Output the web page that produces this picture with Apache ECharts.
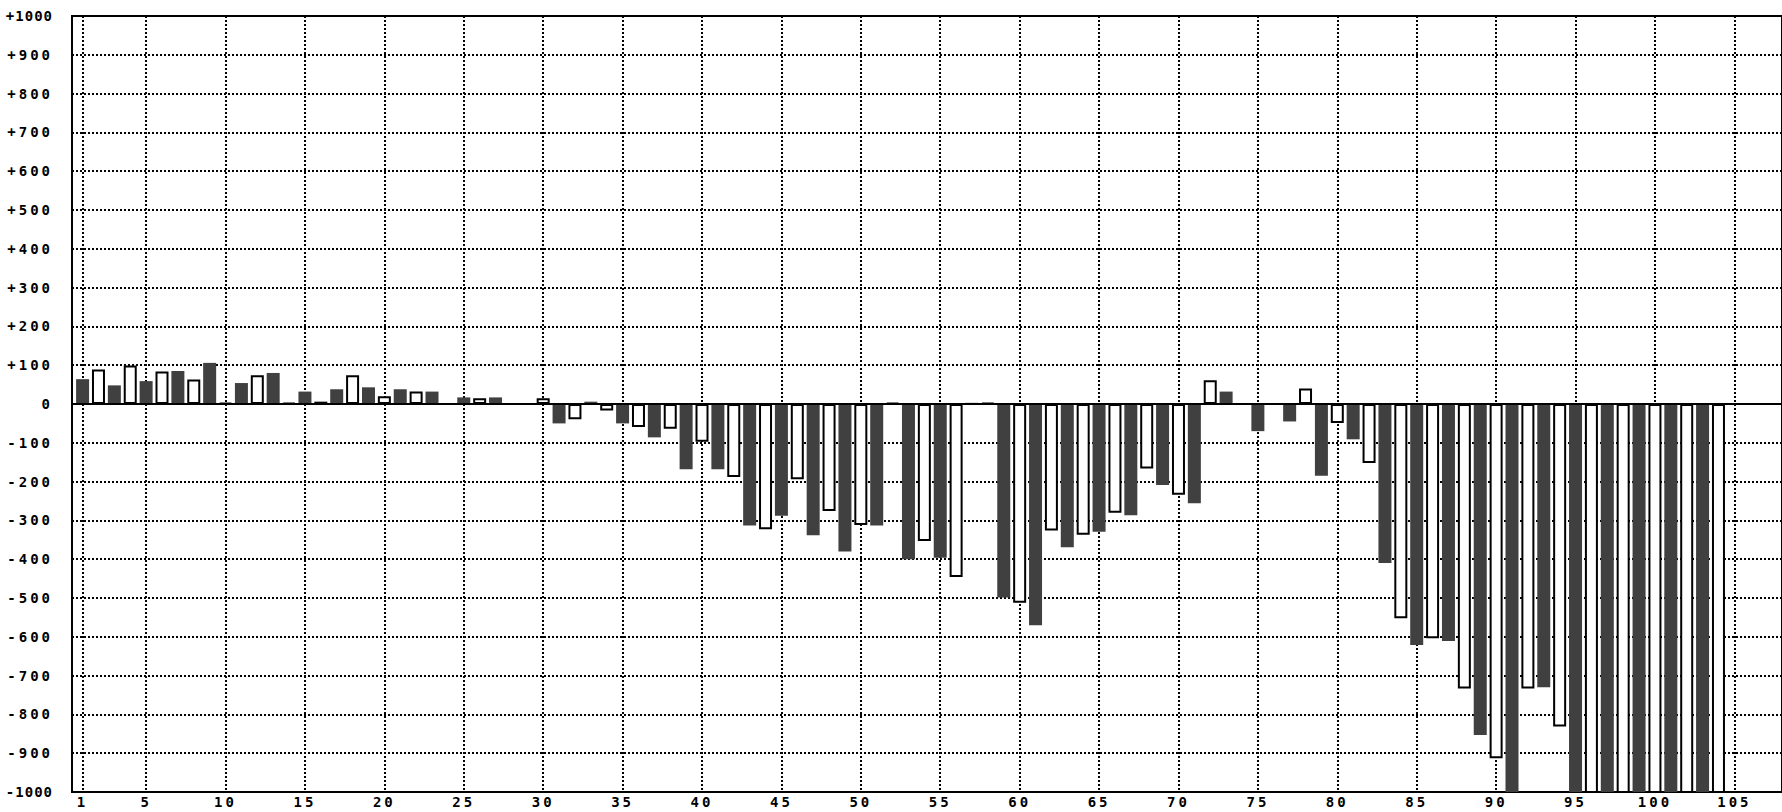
<!DOCTYPE html>
<html>
<head>
<meta charset="utf-8">
<script src="https://cdn.jsdelivr.net/npm/echarts@6/dist/echarts.min.js"></script>
<style>
  html, body { margin: 0; padding: 0; background: #fff; }
  #chart { width: 1782px; height: 812px; }
  #chart text { letter-spacing: 3px; }
</style>
</head>
<body>
<div id="chart"></div>
<script>
// Category numbers (x positions of the bars)
const categories = [
  1, 2, 3, 4, 5, 6, 7, 8, 9, 10, 11, 12, 13, 14, 15, 16, 17, 18, 19, 20,
  21, 22, 23, 24, 25, 26, 27, 28, 29, 30, 31, 32, 33, 34, 35, 36, 37, 38, 39, 40,
  41, 42, 43, 44, 45, 46, 47, 48, 49, 50, 51, 52, 53, 54, 55, 56, 57, 58, 59, 60,
  61, 62, 63, 64, 65, 66, 67, 68, 69, 70, 71, 72, 73, 74, 75, 76, 77, 78, 79, 80,
  81, 82, 83, 84, 85, 86, 87, 88, 89, 90, 91, 92, 93, 94, 95, 96, 97, 98, 99, 100,
  101, 102, 103, 104, 105
];

// Bar values (null = no bar). Odd categories are drawn dark, even ones hollow.
const values = [
  64, 89, 48, 99, 59, 84, 85, 63, 106, 3,
  54, 74, 80, 3, 32, 6, 38, 74, 43, 20,
  38, 32, 32, null, 17, 15, 17, null, null, 15,
  -50, -39, 6, -17, -50, -59, -86, -64, -168, -97,
  -168, -188, -313, -323, -288, -194, -338, -276, -380, -312,
  -313, 3, -400, -353, -396, -446, 3, 3, -499, -512,
  -570, -326, -369, -337, -329, -280, -287, -166, -209, -234,
  -256, 61, 32, null, -70, null, -45, 40, -185, -49,
  -91, -152, -410, -552, -621, -604, -611, -733, -853, -913,
  -1040, -733, -730, -831, -1040, -1040, -1040, -1040, -1040, -1040,
  -1040, -1040, -1040, -1040, null
];

// Axis tick labels
const xTickLabels = [1, 5, 10, 15, 20, 25, 30, 35, 40, 45, 50, 55, 60, 65, 70, 75, 80, 85, 90, 95, 100, 105];
const yMin = -1000, yMax = 1000, yStep = 100;

const darkData = [], hollowData = [];
categories.forEach(function (c, i) {
  if (values[i] === null) return;
  if (c % 2 === 1) darkData.push([c, values[i]]);
  else hollowData.push([c, values[i]]);
});

const chart = echarts.init(document.getElementById('chart'), null, { renderer: 'svg' });
const dotted = { color: '#000', width: 2, type: [2, 2] };
const labelFont = { color: '#000', fontFamily: 'DejaVu Sans Mono', fontSize: 14, fontWeight: 'bold' };

chart.on('finished', function () {
  // the two end labels get tighter spacing so they stay inside the picture
  document.querySelectorAll('#chart text').forEach(function (t) {
    const s = (t.textContent || '').trim();
    if (s === '+1000' || s === '-1000') t.style.letterSpacing = '1px';
  });
});

chart.setOption({
  animation: false,
  backgroundColor: '#fff',
  grid: {
    left: 72, top: 16, width: 1722.7, height: 776,
    show: true, borderColor: '#000', borderWidth: 2, backgroundColor: 'transparent',
    containLabel: false
  },
  xAxis: {
    type: 'value', min: 0.333, max: 108,
    axisLine: { show: false },
    axisTick: { show: false, customValues: xTickLabels },
    axisLabel: Object.assign({ customValues: xTickLabels, margin: 3 }, labelFont),
    splitLine: { show: true, lineStyle: dotted }
  },
  yAxis: {
    type: 'value', min: yMin, max: yMax, interval: yStep,
    axisLine: { show: false },
    axisTick: { show: false },
    axisLabel: Object.assign({
      margin: 19,
      formatter: function (v) { return v > 0 ? '+' + v : String(v); }
    }, labelFont),
    splitLine: { show: true, lineStyle: dotted }
  },
  series: [
    {
      type: 'bar', data: darkData, barWidth: 13, barGap: '-100%', clip: true,
      itemStyle: { color: '#404040', borderColor: '#404040', borderWidth: 0 }
    },
    {
      type: 'bar', data: hollowData, barWidth: 13, barGap: '-100%', clip: true,
      itemStyle: { color: '#ffffff', borderColor: '#000000', borderWidth: 2 },
      markLine: {
        silent: true, symbol: ['none', 'none'], animation: false,
        label: { show: false },
        lineStyle: { color: '#000', width: 2, type: 'solid' },
        data: [{ yAxis: 0 }]
      }
    }
  ]
});
</script>
</body>
</html>
